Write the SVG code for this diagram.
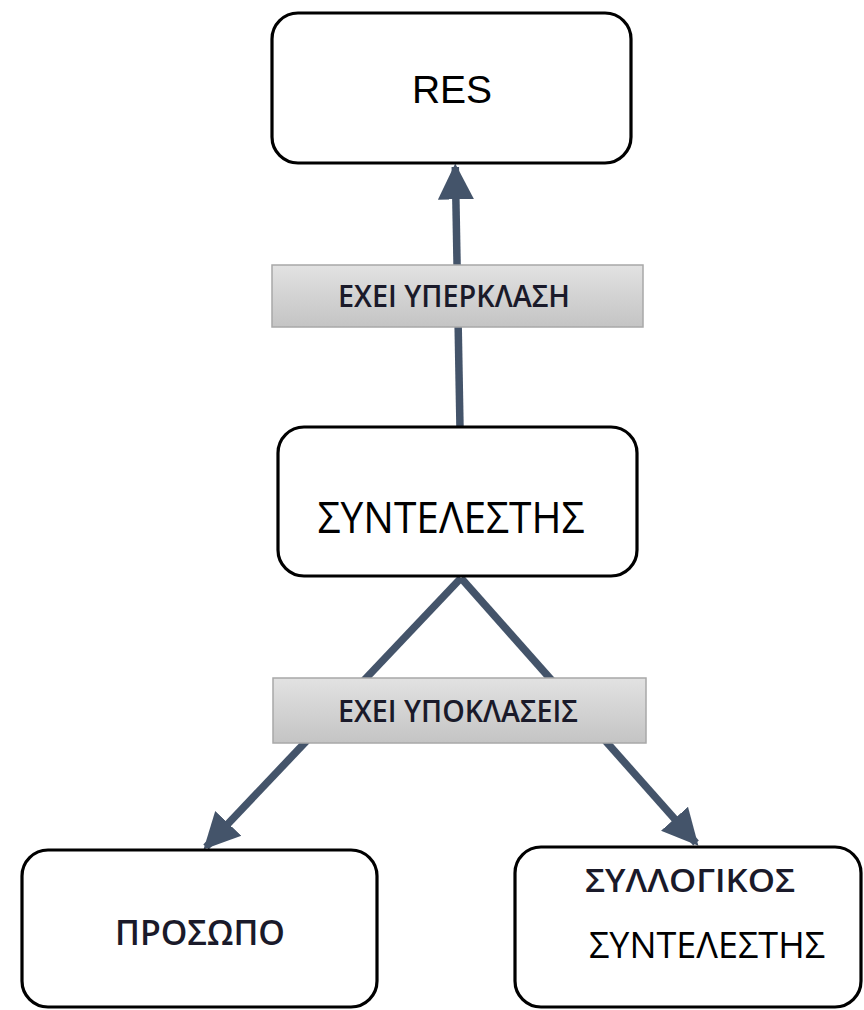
<svg xmlns="http://www.w3.org/2000/svg" width="864" height="1010" viewBox="0 0 864 1010">
  <defs>
    <linearGradient id="labelFill" x1="0" y1="0" x2="0" y2="1">
      <stop offset="0" stop-color="#e2e2e2"/>
      <stop offset="1" stop-color="#c4c4c4"/>
    </linearGradient>
    <marker id="arrowHead" viewBox="0 0 10 10" refX="9" refY="5" markerWidth="4.8" markerHeight="5" markerUnits="strokeWidth" orient="auto">
      <path d="M0,0 L10,5 L0,10 z" fill="#44546a"/>
    </marker>
    <style>
      .node { fill: #ffffff; stroke: #000000; stroke-width: 3.2; }
      .edge { fill: none; stroke: #44546a; stroke-width: 7.5; }
      .label-box { fill: url(#labelFill); stroke: #a8a8a8; stroke-width: 1.5; }
      .label-text { font-family: "Open Sans", "Noto Sans", sans-serif; font-size: 31px; font-weight: 600; fill: #1a1a2a; text-anchor: middle; }
      .greek { font-family: "Open Sans", "Noto Sans", sans-serif; fill: #000000; text-anchor: middle; }
      .bold { font-weight: 600; fill: #1a1a2a; }
      .latin { font-family: "Liberation Sans", Arial, sans-serif; fill: #000000; text-anchor: middle; }
    </style>
  </defs>

  <rect width="864" height="1010" fill="#ffffff"/>

  <!-- connectors -->
  <g id="connectors">
    <line class="edge" x1="460" y1="428" x2="455.3" y2="167" marker-end="url(#arrowHead)"/>
    <line class="edge" x1="461" y1="578" x2="206" y2="847" marker-end="url(#arrowHead)"/>
    <line class="edge" x1="461" y1="578" x2="696" y2="843" marker-end="url(#arrowHead)"/>
  </g>

  <!-- edge labels -->
  <g id="label-superclass">
    <rect class="label-box" x="272" y="265" width="371" height="62"/>
    <text class="label-text" x="454" y="307" textLength="232" lengthAdjust="spacingAndGlyphs">ΕΧΕΙ ΥΠΕΡΚΛΑΣΗ</text>
  </g>
  <g id="label-subclasses">
    <rect class="label-box" x="273" y="678" width="373" height="65"/>
    <text class="label-text" x="458" y="722" textLength="240" lengthAdjust="spacingAndGlyphs">ΕΧΕΙ ΥΠΟΚΛΑΣΕΙΣ</text>
  </g>

  <!-- nodes -->
  <g id="node-res">
    <rect class="node" x="272" y="13" width="359" height="150" rx="26" ry="26"/>
    <text class="latin" x="452" y="103" font-size="39">RES</text>
  </g>
  <g id="node-syntelestis">
    <rect class="node" x="278" y="427" width="359" height="149" rx="26" ry="26"/>
    <text class="greek" x="451" y="533" font-size="44" textLength="267" lengthAdjust="spacingAndGlyphs">ΣΥΝΤΕΛΕΣΤΗΣ</text>
  </g>
  <g id="node-prosopo">
    <rect class="node" x="22" y="850" width="355" height="157" rx="26" ry="26"/>
    <text class="greek bold" x="200" y="945" font-size="34" textLength="170" lengthAdjust="spacingAndGlyphs">ΠΡΟΣΩΠΟ</text>
  </g>
  <g id="node-syllogikos">
    <rect class="node" x="515" y="847" width="346" height="160" rx="26" ry="26"/>
    <text class="greek bold" x="690" y="892" font-size="32" textLength="210" lengthAdjust="spacingAndGlyphs">ΣΥΛΛΟΓΙΚΟΣ</text>
    <text class="greek" x="707" y="958" font-size="37" textLength="236" lengthAdjust="spacingAndGlyphs">ΣΥΝΤΕΛΕΣΤΗΣ</text>
  </g>
</svg>
